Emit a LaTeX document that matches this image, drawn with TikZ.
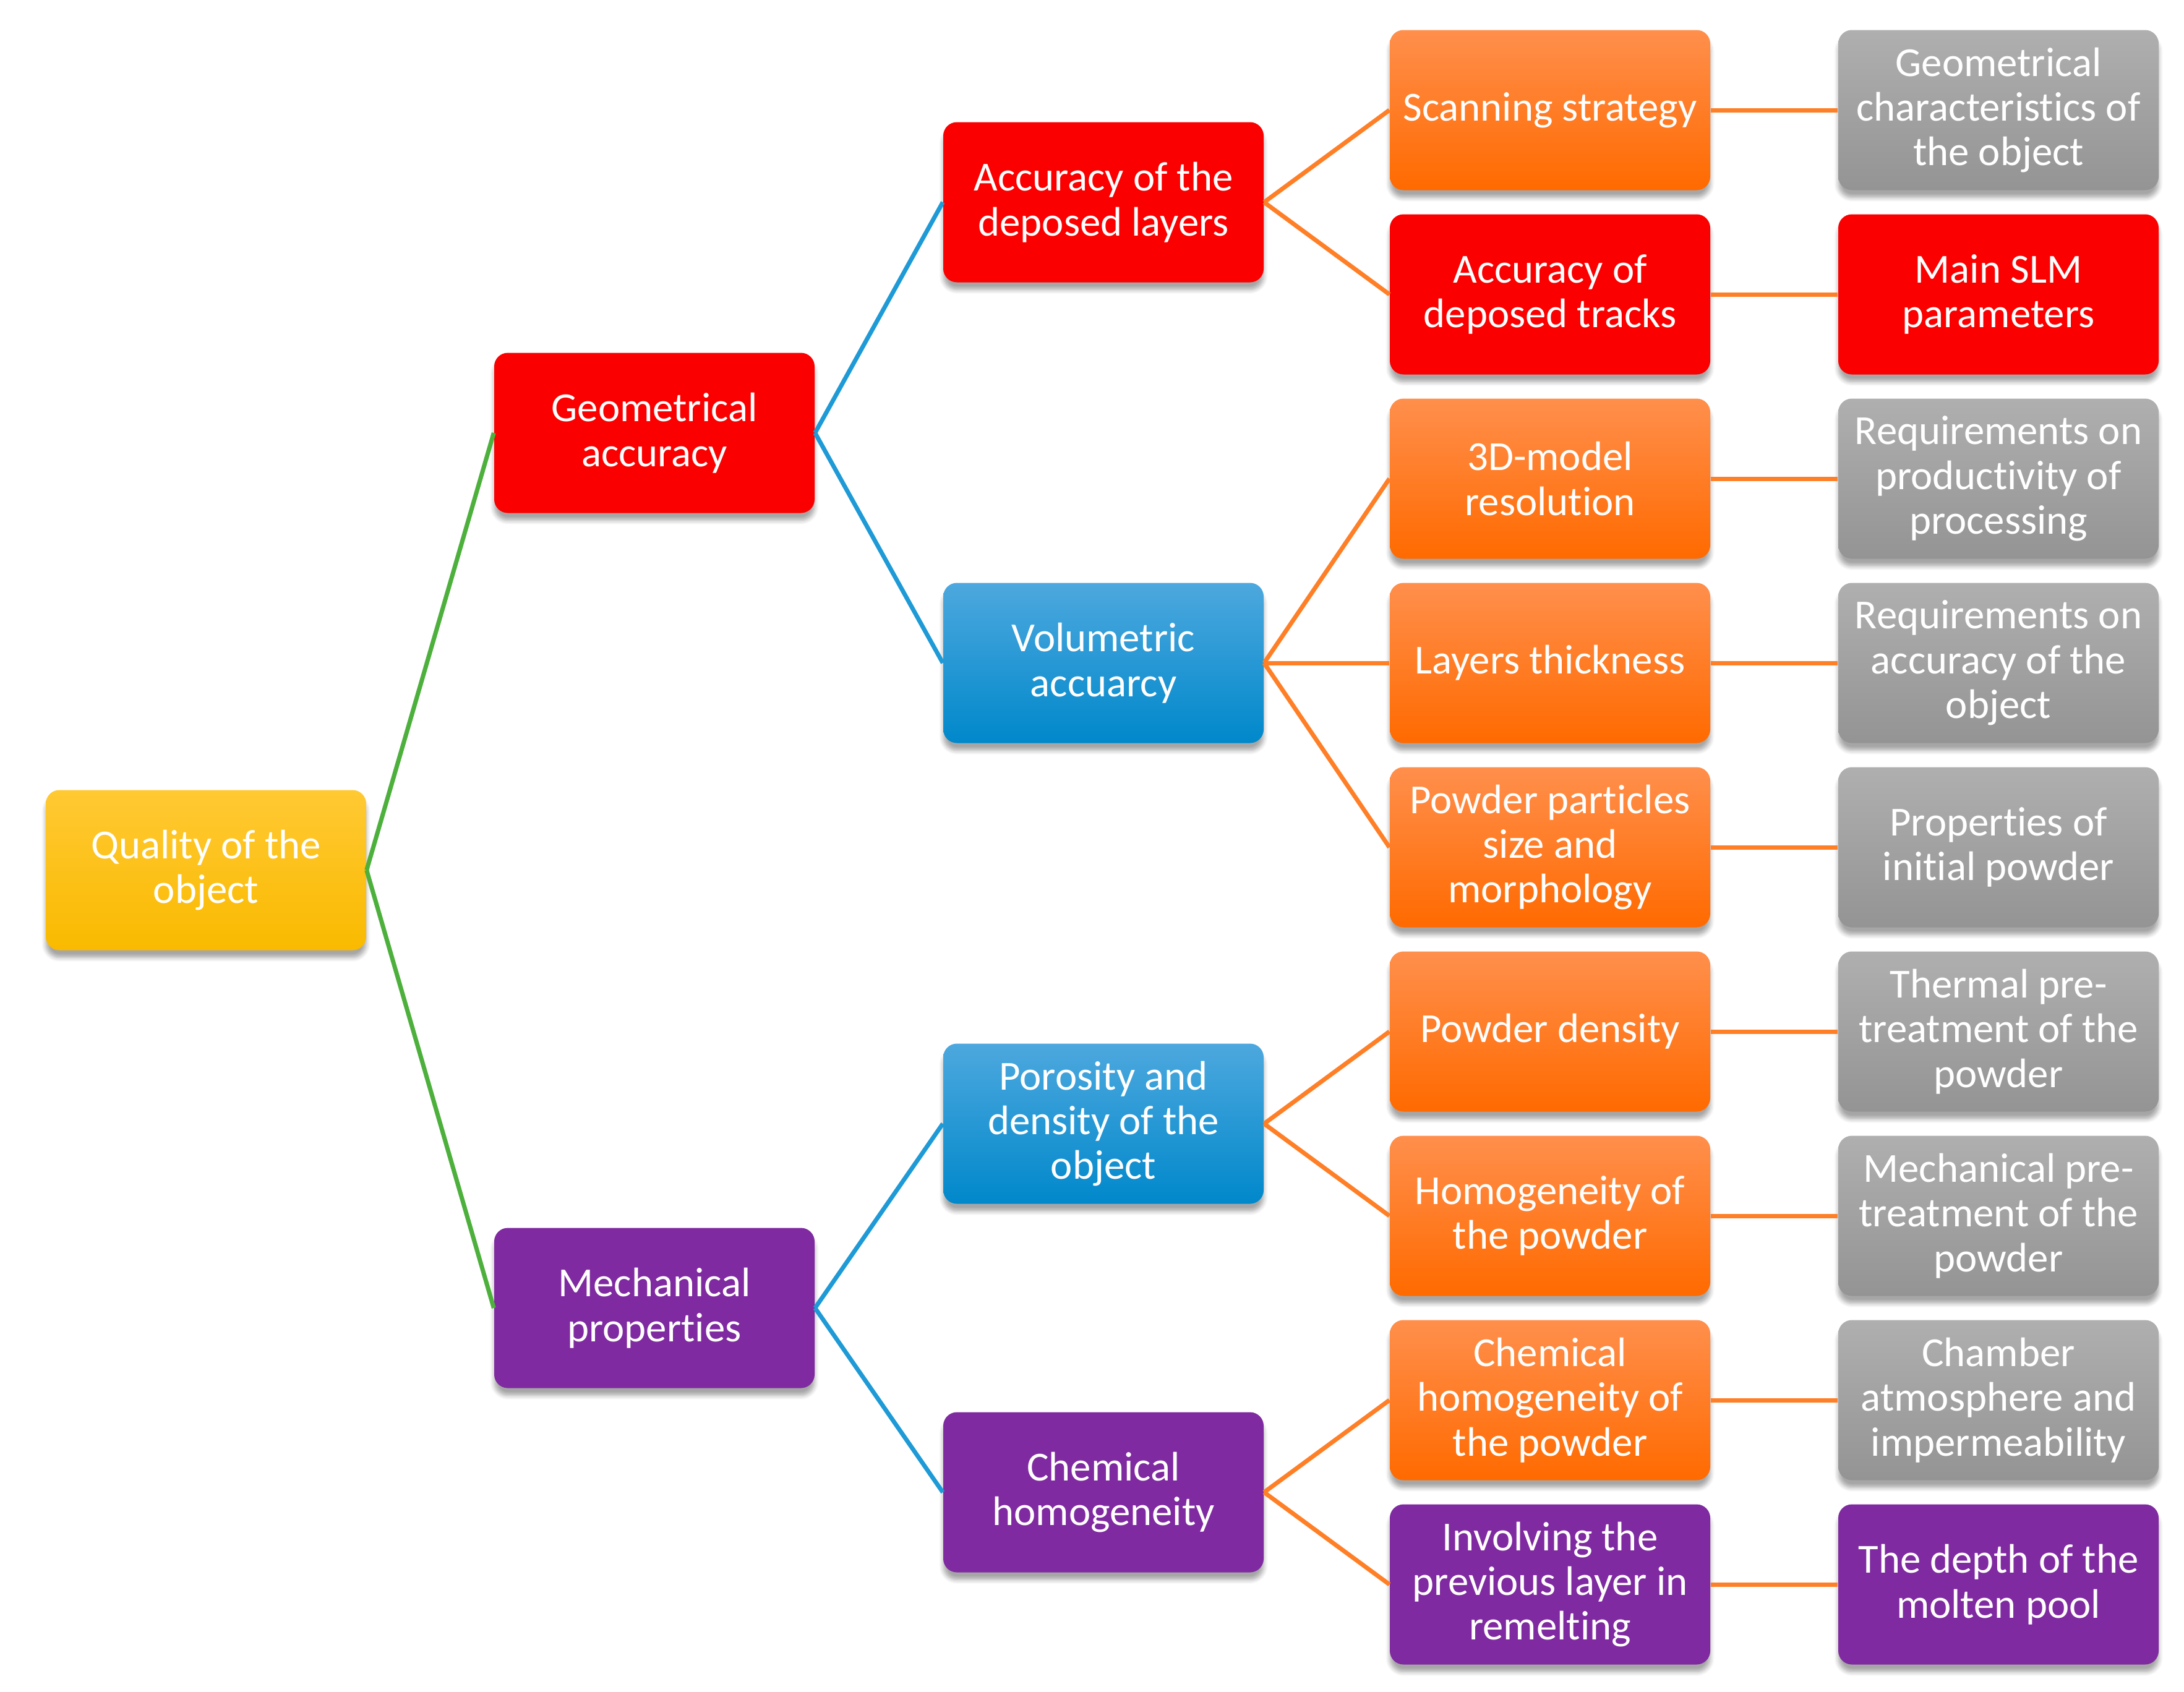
\documentclass[tikz,border=0pt]{standalone}
\usepackage{fontspec}
\setmainfont[Ligatures=NoCommon]{Carlito}
\usepackage{xcolor}
\usetikzlibrary{shadows.blur}

\definecolor{qred}{HTML}{FA0000}
\definecolor{qpurple}{HTML}{7F2AA0}
\definecolor{qorangeT}{HTML}{FF8F4C}
\definecolor{qorangeB}{HTML}{FF6A00}
\definecolor{qgrayT}{HTML}{AFAFAF}
\definecolor{qgrayB}{HTML}{949494}
\definecolor{qblueT}{HTML}{4DA8DE}
\definecolor{qblueM}{HTML}{039EDF}
\definecolor{qblueB}{HTML}{0088CB}
\definecolor{qyellowT}{HTML}{FFC933}
\definecolor{qyellowM}{HTML}{FFCC00}
\definecolor{qyellowB}{HTML}{FABA00}
\definecolor{lgreen}{HTML}{4DB03C}
\definecolor{lblue}{HTML}{1E9AD6}
\definecolor{lorange}{HTML}{FF7F27}

\begin{document}
\begin{tikzpicture}[
        box/.style={rectangle, rounded corners=0.22cm, minimum width=5.18cm, minimum height=2.59cm,
            text=white, align=center, font=\fontsize{19}{20.6}\selectfont,
            blur shadow={shadow xshift=0pt, shadow yshift=-0.12cm, shadow blur steps=6, shadow opacity=35}},
        redbox/.style={box, fill=qred},
        purplebox/.style={box, fill=qpurple},
        orangebox/.style={box, top color=qorangeT, bottom color=qorangeB},
        graybox/.style={box, top color=qgrayT, bottom color=qgrayB},
        bluebox/.style={box, top color=qblueT, middle color=qblueM, bottom color=qblueB},
        yellowbox/.style={box, top color=qyellowT, middle color=qyellowM, bottom color=qyellowB},
        link/.style={line width=2pt}
    ]
        \useasboundingbox (0,0) rectangle (35.31,-27.35);

        % level 1 and 2
        \node[yellowbox] (Q) at (3.33,-14.07) {Quality of the\\object};
        \node[redbox] (GA) at (10.58,-7.00) {Geometrical\\accuracy};
        \node[purplebox] (MP) at (10.58,-21.15) {Mechanical\\properties};

        % level 3
        \node[redbox] (AL) at (17.84,-3.27) {Accuracy of the\\deposed layers};
        \node[bluebox] (VA) at (17.84,-10.72) {Volumetric\\accuarcy};
        \node[bluebox] (PD) at (17.84,-18.17) {Porosity and\\density of the\\object};
        \node[purplebox] (CH) at (17.84,-24.13) {Chemical\\homogeneity};

        % level 4
        \node[orangebox] (F1) at (25.06,-1.78) {Scanning strategy};
        \node[redbox] (F2) at (25.06,-4.76) {Accuracy of\\deposed tracks};
        \node[orangebox] (F3) at (25.06,-7.74) {3D-model\\resolution};
        \node[orangebox] (F4) at (25.06,-10.72) {Layers thickness};
        \node[orangebox] (F5) at (25.06,-13.70) {Powder particles\\size and\\morphology};
        \node[orangebox] (F6) at (25.06,-16.68) {Powder density};
        \node[orangebox] (F7) at (25.06,-19.66) {Homogeneity of\\the powder};
        \node[orangebox] (F8) at (25.06,-22.64) {Chemical\\homogeneity of\\the powder};
        \node[purplebox] (F9) at (25.06,-25.62) {Involving the\\previous layer in\\remelting};

        % level 5
        \node[graybox] (S1) at (32.31,-1.78) {Geometrical\\characteristics of\\the object};
        \node[redbox] (S2) at (32.31,-4.76) {Main SLM\\parameters};
        \node[graybox] (S3) at (32.31,-7.74) {Requirements on\\productivity of\\processing};
        \node[graybox] (S4) at (32.31,-10.72) {Requirements on\\accuracy of the\\object};
        \node[graybox] (S5) at (32.31,-13.70) {Properties of\\initial powder};
        \node[graybox] (S6) at (32.31,-16.68) {Thermal pre-\\treatment of the\\powder};
        \node[graybox] (S7) at (32.31,-19.66) {Mechanical pre-\\treatment of the\\powder};
        \node[graybox] (S8) at (32.31,-22.64) {Chamber\\atmosphere and\\impermeability};
        \node[purplebox] (S9) at (32.31,-25.62) {The depth of the\\molten pool};

        % connectors
        \draw[link, lgreen] (Q.east) -- (GA.west);
        \draw[link, lgreen] (Q.east) -- (MP.west);
        \foreach \a/\b in {GA/AL, GA/VA, MP/PD, MP/CH}
            \draw[link, lblue] (\a.east) -- (\b.west);
        \foreach \a/\b in {AL/F1, AL/F2, VA/F3, VA/F4, VA/F5, PD/F6, PD/F7, CH/F8, CH/F9}
            \draw[link, lorange] (\a.east) -- (\b.west);
        \foreach \i in {1,...,9}
            \draw[link, lorange] (F\i.east) -- (S\i.west);
    \end{tikzpicture}
\end{document}
